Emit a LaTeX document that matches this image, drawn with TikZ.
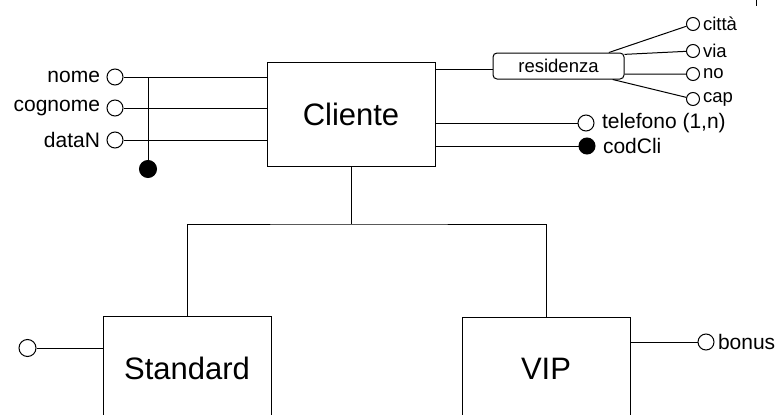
\documentclass[tikz,border=0pt]{standalone}
\usepackage{fontspec}
\setmainfont{Liberation Sans}
\usepackage{tikz}
\usetikzlibrary{shapes}
\newcommand\entfont{\fontsize{31}{36}\selectfont}
\newcommand\attfont{\fontsize{21}{25}\selectfont}
\newcommand\subfont{\fontsize{18.5}{22}\selectfont}

\begin{document}
\begin{tikzpicture}[x=1pt,y=-1pt,line width=1pt]
    \tikzstyle{entity}=[draw, rectangle, minimum width=168pt, minimum height=104pt, inner sep=0pt, font=\entfont]
    \tikzstyle{attr}=[draw, circle, inner sep=0pt, minimum size=16pt, fill=white]
    \tikzstyle{ident}=[style=attr, fill=black, minimum size=17pt]
    \tikzstyle{subattr}=[style=attr, minimum size=13pt]
    \tikzstyle{composite}=[draw, rectangle, rounded corners=4pt, minimum width=131pt, minimum height=26pt, inner sep=0pt, font=\subfont]
    \tikzstyle{every label}=[inner sep=1pt, font=\attfont]

    \useasboundingbox (0,0) rectangle (780,415);
    \clip (0,0) rectangle (780,415);

    \node[entity]    (cli) at (351,114)   {Cliente};
    \node[entity]    (std) at (187,368)   {Standard};
    \node[entity]    (vip) at (546,369)   {VIP};
    \node[composite] (res) at (558.5,66)  {residenza};

    \node[attr,label={[label distance=5pt]left:nome}]    (nome)    at (115,77)  {};
    \node[attr,label={[label distance=5pt]left:cognome}] (cognome) at (115,108) {};
    \node[attr,label={[label distance=5pt]left:dataN}]   (datan)   at (115,140) {};
    \node[ident]                                         (idn)     at (148,169) {};

    \node[attr,label={[label distance=6pt]right:telefono (1,n)}]       (tel) at (586,123) {};
    \node[ident,minimum size=16pt,label={[label distance=6pt]right:codCli}] (cod) at (587,146) {};

    \node[subattr,label={[label distance=1.5pt,font=\subfont]right:città}] (citta) at (693,24) {};
    \node[subattr,label={[label distance=1.5pt,font=\subfont]right:via}]   (via)   at (693,51) {};
    \node[subattr,label={[label distance=1.5pt,font=\subfont]right:no}]    (no)    at (693,74) {};
    \node[subattr,label={[label distance=1.5pt,font=\subfont]right:cap}]   (cap)   at (693,99) {};

    \node[attr,label={[label distance=2pt]right:bonus}] (bonus)  at (706,342)  {};
    \node[attr,minimum size=17pt]                       (stdatt) at (27.5,348) {};

    \coordinate (isa)   at (351,224);
    \coordinate (resin) at ([yshift=-3pt]res.west);
    \coordinate (tick)  at (756,0);

    \path[draw]
     (nome)    edge (nome -| cli.west)
     (cognome) edge (cognome -| cli.west)
     (datan)   edge (datan -| cli.west)
     (idn)     edge (idn |- nome)
     (resin)   edge (resin -| cli.east)
     (tel)     edge (tel -| cli.east)
     (cod)     edge (cod -| cli.east)
     (res.15)  edge (citta)
     (res.10)  edge (via)
     (res.-7)  edge (no)
     (res.-14) edge (cap)
     (cli.south) edge (isa)
     (bonus)   edge (bonus -| vip.east)
     (stdatt)  edge (stdatt -| std.west);
    \draw (std.north) |- (isa) -| (vip.north);
    \draw (tick) -- ++(0,6);
\end{tikzpicture}
\end{document}
